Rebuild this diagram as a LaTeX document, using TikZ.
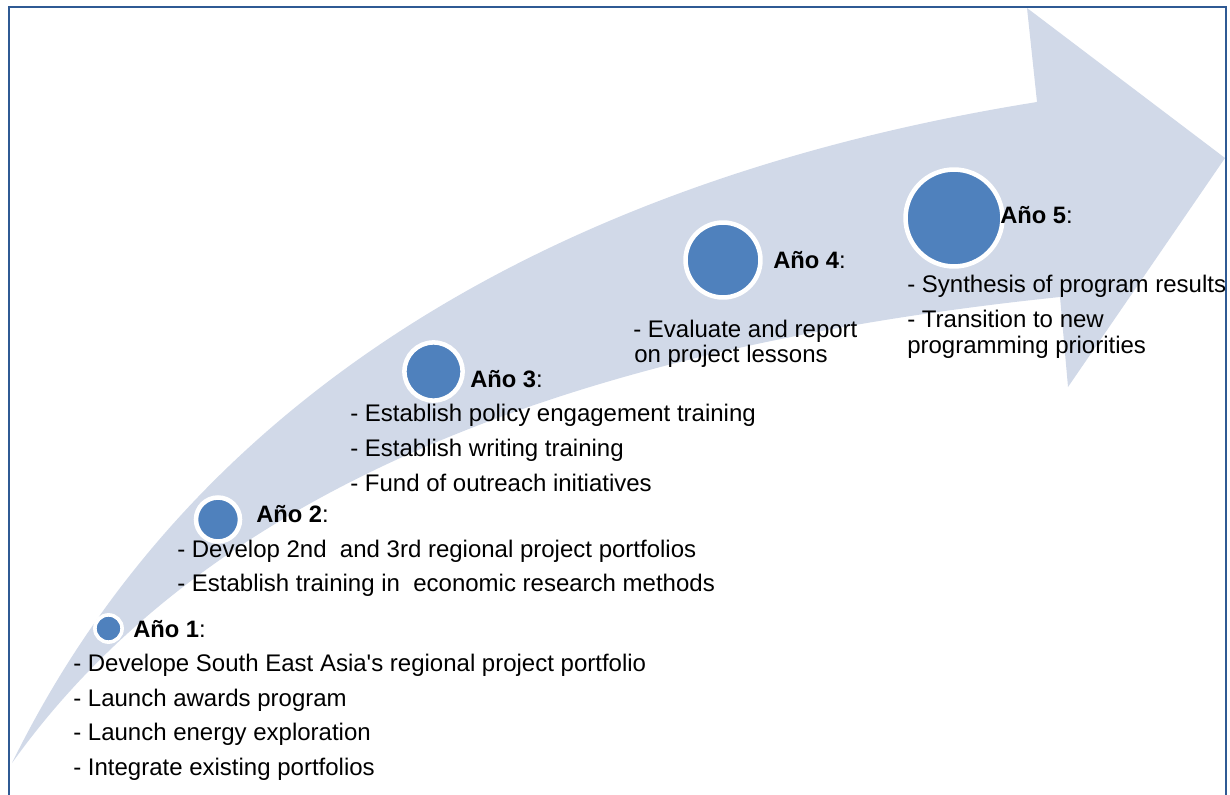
\documentclass[tikz,border=0pt]{standalone}
\usepackage{fontspec}
\setmainfont{Liberation Sans}[Ligatures=TeXOff]
\definecolor{arrowfill}{HTML}{D1D9E8}
\definecolor{dotblue}{HTML}{4F81BD}
\definecolor{framecol}{HTML}{2F5A94}
\begin{document}
\begin{tikzpicture}[x=0.75pt,y=-0.75pt,
  yearcircle/.style={circle,fill=dotblue,draw=white,line width=3.4pt,inner sep=0pt},
  yearlabel/.style={anchor=base west,inner sep=0pt,font=\fontsize{17.8}{21}\selectfont},
  itemtext/.style={anchor=base west,inner sep=0pt,font=\fontsize{18}{21}\selectfont}]
\useasboundingbox (0,0) rectangle (1230,795);
% big curved arrow
\fill[arrowfill] (12,763) .. controls (190,400) and (550,180) .. (1037,102)
  -- (1027,8) -- (1225,158) -- (1068,387) -- (1060,297)
  .. controls (550,350) and (200,500) .. (12,763) -- cycle;
% frame
\draw[framecol,line width=1.9pt] (9,795) -- (9,7) -- (1226,7) -- (1226,795);
% circles
\node[yearcircle,minimum size=20.4pt,line width=2.7pt] (c1) at (108.5,628.5) {};
\node[yearcircle,minimum size=33pt] (c2) at (218,519.5) {};
\node[yearcircle,minimum size=43.6pt] (c3) at (433.5,371.5) {};
\node[yearcircle,minimum size=56.2pt] (c4) at (723,260) {};
\node[yearcircle,minimum size=72.7pt] (c5) at (954,218) {};
% labels
\node[yearlabel] (l1) at (133,637) {\textbf{Año 1}:};
\node[yearlabel] (l2) at (256,522) {\textbf{Año 2}:};
\node[yearlabel] (l3) at (470,387) {\textbf{Año 3}:};
\node[yearlabel] (l4) at (773,268) {\textbf{Año 4}:};
\node[yearlabel] (l5) at (1000,223) {\textbf{Año 5}:};
% year 1 items
\node[itemtext] (a1) at (73,671.5) {- Develope South East Asia's regional project portfolio};
\node[itemtext] (a2) at (73,706) {- Launch awards program};
\node[itemtext] (a3) at (73,740.5) {- Launch energy exploration};
\node[itemtext] (a4) at (73,775) {- Integrate existing portfolios};
% year 2 items
\node[itemtext] (b1) at (177,557) {- Develop 2nd\ \ and 3rd regional project portfolios};
\node[itemtext] (b2) at (177,591) {- Establish training in\ \ economic research methods};
% year 3 items
\node[itemtext] (d1) at (350,421) {- Establish policy engagement training};
\node[itemtext] (d2) at (350,456) {- Establish writing training};
\node[itemtext] (d3) at (350,491) {- Fund of outreach initiatives};
% year 4 items
\node[itemtext] (e1) at (633,337) {- Evaluate and report};
\node[itemtext] (e2) at (634,362) {on project lessons};
% year 5 items
\node[itemtext] (f1) at (907,292) {- Synthesis of program results};
\node[itemtext] (f2) at (907,327) {- Transition to new};
\node[itemtext] (f3) at (907,353) {programming priorities};
\end{tikzpicture}
\end{document}
